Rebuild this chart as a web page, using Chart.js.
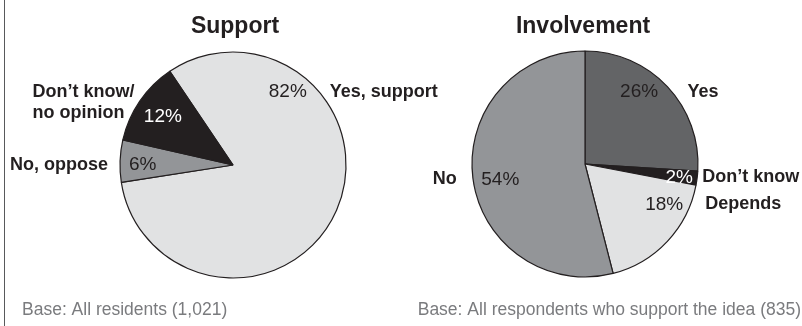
<!DOCTYPE html>
<html>
<head>
<meta charset="utf-8">
<script src="https://cdn.jsdelivr.net/npm/chart.js@4/dist/chart.umd.min.js"></script>
<style>
  html, body { margin: 0; padding: 0; background: #fff; }
  #wrap { position: relative; width: 802px; height: 326px; overflow: hidden; }
  #wrap canvas { position: absolute; left: 0; top: 0; }
  #rule { position: absolute; left: 4px; top: 0; width: 1px; height: 326px; background: #58595b; }
</style>
</head>
<body>
<div id="wrap">
  <div id="rule"></div>
  <canvas id="support" width="802" height="326"></canvas>
  <canvas id="involvement" width="802" height="326"></canvas>
</div>
<script>
// Support for the idea among all residents
const supportCategories = ['Yes, support', 'No, oppose', ['Don’t know/', 'no opinion']];
const supportValues = [82, 6, 12];

// Willingness to get involved, among those who support the idea
const involvementCategories = ['Yes', 'Don’t know', 'Depends', 'No'];
const involvementValues = [26, 2, 18, 54];

const titles = ['Support', 'Involvement'];
const baseNotes = ['Base: All residents (1,021)', 'Base: All respondents who support the idea (835)'];

const INK = '#231f20';
const FONT = '"Liberation Sans", Arial, Helvetica, sans-serif';

// Placement and styling of each pie
const pies = [
  {
    canvas: 'support', categories: supportCategories, values: supportValues, title: titles[0], note: baseNotes[0],
    cx: 233, cy: 165, radius: 113, rotation: -34,
    colors: ['#e1e2e3', '#939598', INK],
    valueInk: [INK, INK, '#ffffff'],
    // percentage position: fraction along the arc, fraction of the radius
    spots: [[0.238, 0.82], [0.46, 0.80], [0.52, 0.76]],
    // space between rim and category text, vertical shift of the category text
    gaps: [12, 12, 5], nudges: [0, 0, -14],
    titleShift: 2, noteX: 22, noteAlign: 'left'
  },
  {
    canvas: 'involvement', categories: involvementCategories, values: involvementValues, title: titles[1], note: baseNotes[1],
    cx: 585, cy: 164, radius: 113, rotation: 0,
    colors: ['#636466', INK, '#e1e2e3', '#939598'],
    valueInk: [INK, '#ffffff', INK, INK],
    spots: [[0.387, 0.81], [0.5, 0.84], [0.236, 0.78], [0.489, 0.76]],
    gaps: [17, 5, 14, 16], nudges: [0, 0, 0, 0],
    titleShift: -2, noteX: 801, noteAlign: 'right'
  }
];

function sliceLabels(cfg) {
  return {
    id: 'sliceLabels',
    afterDatasetsDraw(chart) {
      const ctx = chart.ctx;
      const meta = chart.getDatasetMeta(0);
      const ds = chart.data.datasets[0];
      let cx = 0;
      ctx.save();
      ctx.textBaseline = 'alphabetic';
      meta.data.forEach((arc, i) => {
        const p = arc.getProps(['x', 'y', 'startAngle', 'endAngle', 'outerRadius'], true);
        cx = p.x;
        const [t, k] = cfg.spots[i];
        const a = p.startAngle + t * (p.endAngle - p.startAngle);
        const px = p.x + Math.cos(a) * p.outerRadius * k;
        const py = p.y + Math.sin(a) * p.outerRadius * k;

        // value inside the slice
        ctx.font = `19px ${FONT}`;
        ctx.fillStyle = cfg.valueInk[i];
        ctx.textAlign = 'center';
        ctx.fillText(ds.data[i] + '%', px, py + 19 * 0.36);

        // category name just outside the rim, on the same line
        const lines = [].concat(chart.data.labels[i]);
        ctx.font = `bold 18px ${FONT}`;
        ctx.fillStyle = INK;
        ctx.textAlign = 'left';
        const lh = 21;
        const my = py + cfg.nudges[i];
        const dy = my - p.y;
        const half = Math.sqrt(Math.max(p.outerRadius * p.outerRadius - dy * dy, 0));
        const w = Math.max(...lines.map(l => ctx.measureText(l).width));
        const onRight = Math.cos(a) >= 0;
        const left = onRight ? p.x + half + cfg.gaps[i] : p.x - half - cfg.gaps[i] - w;
        const top = my - (lines.length - 1) * lh / 2;
        lines.forEach((l, j) => ctx.fillText(l, left, top + j * lh + 18 * 0.36));
      });

      // heading
      ctx.font = `bold 23px ${FONT}`;
      ctx.fillStyle = INK;
      ctx.textAlign = 'center';
      ctx.fillText(cfg.title, cx + cfg.titleShift, 33);

      // base note
      ctx.font = `17.5px ${FONT}`;
      ctx.fillStyle = '#7a7b7e';
      ctx.textAlign = cfg.noteAlign;
      ctx.fillText(cfg.note, cfg.noteX, 315);
      ctx.restore();
    }
  };
}

pies.forEach(cfg => {
  const box = 240;
  new Chart(document.getElementById(cfg.canvas), {
    type: 'pie',
    data: {
      labels: cfg.categories,
      datasets: [{
        data: cfg.values,
        backgroundColor: cfg.colors,
        borderColor: INK,
        borderWidth: 1.2,
        radius: cfg.radius
      }]
    },
    options: {
      responsive: false,
      animation: false,
      events: [],
      rotation: cfg.rotation,
      layout: {
        padding: {
          left: cfg.cx - box / 2,
          right: 802 - cfg.cx - box / 2,
          top: cfg.cy - box / 2,
          bottom: 326 - cfg.cy - box / 2
        }
      },
      plugins: {
        legend: { display: false },
        tooltip: { enabled: false },
        title: { display: false }
      }
    },
    plugins: [sliceLabels(cfg)]
  });
});
</script>
</body>
</html>
